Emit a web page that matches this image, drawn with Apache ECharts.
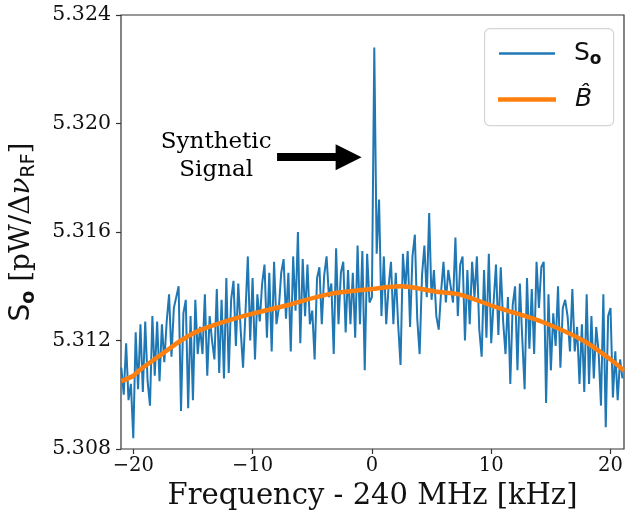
<!DOCTYPE html>
<html><head><meta charset="utf-8">
<script src="https://cdn.jsdelivr.net/npm/echarts@6/dist/echarts.min.js"></script>
<style>html,body{margin:0;padding:0;background:#fff}#c{width:627px;height:516px}</style>
</head><body><div id="c"></div>
<script>
// Frequency offsets (kHz)
const freq = [
 -21.0,-20.8,-20.6,-20.4,-20.2, -20.0,-19.8,-19.6,-19.4,-19.2, -19.0,-18.8,-18.6,-18.4,-18.2,
 -18.0,-17.8,-17.6,-17.4,-17.2, -17.0,-16.8,-16.6,-16.4,-16.2, -16.0,-15.8,-15.6,-15.4,-15.2,
 -15.0,-14.8,-14.6,-14.4,-14.2, -14.0,-13.8,-13.6,-13.4,-13.2, -13.0,-12.8,-12.6,-12.4,-12.2,
 -12.0,-11.8,-11.6,-11.4,-11.2, -11.0,-10.8,-10.6,-10.4,-10.2, -10.0,-9.8,-9.6,-9.4,-9.2,
 -9.0,-8.8,-8.6,-8.4,-8.2, -8.0,-7.8,-7.6,-7.4,-7.2, -7.0,-6.8,-6.6,-6.4,-6.2,
 -6.0,-5.8,-5.6,-5.4,-5.2, -5.0,-4.8,-4.6,-4.4,-4.2, -4.0,-3.8,-3.6,-3.4,-3.2,
 -3.0,-2.8,-2.6,-2.4,-2.2, -2.0,-1.8,-1.6,-1.4,-1.2, -1.0,-0.8,-0.6,-0.4,-0.2,
 0.0,0.2,0.4,0.6,0.8, 1.0,1.2,1.4,1.6,1.8, 2.0,2.2,2.4,2.6,2.8,
 3.0,3.2,3.4,3.6,3.8, 4.0,4.2,4.4,4.6,4.8, 5.0,5.2,5.4,5.6,5.8,
 6.0,6.2,6.4,6.6,6.8, 7.0,7.2,7.4,7.6,7.8, 8.0,8.2,8.4,8.6,8.8,
 9.0,9.2,9.4,9.6,9.8, 10.0,10.2,10.4,10.6,10.8, 11.0,11.2,11.4,11.6,11.8,
 12.0,12.2,12.4,12.6,12.8, 13.0,13.2,13.4,13.6,13.8, 14.0,14.2,14.4,14.6,14.8,
 15.0,15.2,15.4,15.6,15.8, 16.0,16.2,16.4,16.6,16.8, 17.0,17.2,17.4,17.6,17.8,
 18.0,18.2,18.4,18.6,18.8, 19.0,19.2,19.4,19.6,19.8, 20.0,20.2,20.4,20.6,20.8,
 21.0
];
// Measured spectrum S_o (pW / Δν_RF)
const signal = [
 5.3110,5.3100,5.3119,5.3098,5.3104, 5.3084,5.3123,5.3102,5.3126,5.3101, 5.3127,5.3105,5.3096,5.3129,5.3107,
 5.3127,5.3105,5.3126,5.3112,5.3127, 5.3137,5.3114,5.3132,5.3136,5.3140, 5.3094,5.3130,5.3135,5.3095,5.3129,
 5.3098,5.3135,5.3115,5.3125,5.3115, 5.3137,5.3107,5.3129,5.3120,5.3113, 5.3139,5.3108,5.3135,5.3106,5.3143,
 5.3108,5.3135,5.3142,5.3118,5.3141, 5.3124,5.3110,5.3130,5.3151,5.3120, 5.3143,5.3113,5.3137,5.3127,5.3141,
 5.3148,5.3121,5.3145,5.3116,5.3149, 5.3126,5.3132,5.3145,5.3150,5.3128, 5.3145,5.3116,5.3151,5.3131,5.3160,
 5.3119,5.3150,5.3129,5.3148,5.3126, 5.3131,5.3113,5.3143,5.3147,5.3126, 5.3144,5.3151,5.3136,5.3141,5.3115,
 5.3154,5.3126,5.3145,5.3149,5.3123, 5.3146,5.3126,5.3145,5.3121,5.3155, 5.3126,5.3153,5.3109,5.3152,5.3134,
 5.3136,5.3228,5.3152,5.3172,5.3129, 5.3151,5.3126,5.3140,5.3149,5.3126, 5.3145,5.3126,5.3111,5.3152,5.3139,
 5.3153,5.3125,5.3151,5.3159,5.3128, 5.3115,5.3144,5.3155,5.3136,5.3167, 5.3135,5.3146,5.3129,5.3124,5.3138,
 5.3149,5.3134,5.3146,5.3140,5.3134, 5.3158,5.3129,5.3148,5.3151,5.3120, 5.3146,5.3126,5.3149,5.3136,5.3151,
 5.3124,5.3114,5.3146,5.3121,5.3152, 5.3119,5.3134,5.3148,5.3122,5.3147, 5.3127,5.3115,5.3136,5.3104,5.3133,
 5.3140,5.3109,5.3141,5.3121,5.3102, 5.3143,5.3117,5.3139,5.3115,5.3149, 5.3132,5.3147,5.3149,5.3097,5.3137,
 5.3109,5.3130,5.3118,5.3140,5.3110, 5.3132,5.3135,5.3129,5.3116,5.3139, 5.3116,5.3125,5.3104,5.3126,5.3101,
 5.3137,5.3104,5.3129,5.3106,5.3125, 5.3116,5.3096,5.3137,5.3088,5.3129, 5.3132,5.3099,5.3116,5.3098,5.3113,
 5.3106
];
// Fitted baseline B-hat
const fitFreq   = [-21.0, -20.0, -19.5, -17.6, -16.0, -14.3, -10.8, -7.1, -3.7, 0.0, 2.4, 5.4, 7.3, 10.6, 14.2, 17.7, 20.0, 21.1];
const fitValues = [5.3105, 5.3107, 5.3109, 5.3115, 5.3120, 5.3124, 5.3129, 5.3133, 5.3137, 5.3139, 5.3140, 5.3138, 5.3137, 5.3132, 5.3127, 5.3120, 5.3113, 5.3109];
const xTicks = [-20, -10, 0, 10, 20];
const yTicks = [5.308, 5.312, 5.316, 5.320, 5.324];

const serif = 'DejaVu Serif';
const sans = 'DejaVu Sans';
const chart = echarts.init(document.getElementById('c'), null, {renderer: 'canvas'});
chart.setOption({
  animation: false,
  backgroundColor: '#fff',
  grid: {left: 120, top: 15, width: 504, height: 437, show: true, borderColor: '#333', borderWidth: 1.2, backgroundColor: 'transparent'},
  xAxis: {
    type: 'value', min: -21.03, max: 21.13,
    axisLine: {show: false, onZero: false},
    splitLine: {show: false},
    axisTick: {show: true, customValues: xTicks, length: 5, lineStyle: {color: '#333', width: 1.2}},
    axisLabel: {customValues: xTicks, margin: 7, fontFamily: serif, fontSize: 19.5, color: '#111',
      formatter: v => String(v).replace('-', '\u2212')},
    name: 'Frequency - 240 MHz [kHz]', nameLocation: 'middle', nameGap: 33,
    nameTextStyle: {fontFamily: serif, fontSize: 29, color: '#111'}
  },
  yAxis: {
    type: 'value', min: 5.308, max: 5.324,
    axisLine: {show: false, onZero: false},
    splitLine: {show: false},
    axisTick: {show: true, customValues: yTicks, length: 5, lineStyle: {color: '#333', width: 1.2}},
    axisLabel: {customValues: yTicks, margin: 10, fontFamily: serif, fontSize: 20.5, color: '#111',
      formatter: v => v.toFixed(3)},
    name: '{s|S}{o|o}{t| [pW/Δ}{nu|ν}{rf|RF}{t|]}', nameLocation: 'middle', nameRotate: 90, nameGap: 82,
    nameTextStyle: {color: '#111', rich: {
      s: {fontFamily: sans, fontSize: 28, lineHeight: 34, color: '#111'},
      o: {fontFamily: sans, fontWeight: 'bold', fontSize: 19, lineHeight: 22, verticalAlign: 'bottom', color: '#111'},
      t: {fontFamily: serif, fontSize: 28, lineHeight: 34, color: '#111'},
      nu: {fontFamily: serif, fontStyle: 'italic', fontSize: 28, lineHeight: 34, color: '#111'},
      rf: {fontFamily: sans, fontSize: 19, lineHeight: 22, verticalAlign: 'bottom', color: '#111'}
    }}
  },
  graphic: [{
    type: 'rect', left: 484, top: 28, z: 3,
    shape: {width: 129, height: 97, r: 5},
    style: {fill: 'rgba(255,255,255,0.85)', stroke: '#d4d4d4', lineWidth: 1.2}
  }],
  legend: [{
    data: ['S_o'], left: 494, top: 36, z: 5, selectedMode: false,
    icon: 'rect', itemWidth: 56, itemHeight: 2.5,
    formatter: () => '{s|S}{o|o}',
    textStyle: {padding: [0, 0, 0, 14], rich: {
      s: {fontFamily: sans, fontSize: 25, lineHeight: 30, color: '#111'},
      o: {fontFamily: sans, fontWeight: 'bold', fontSize: 17, lineHeight: 20, verticalAlign: 'bottom', color: '#111'}
    }}
  }, {
    data: ['B_hat'], left: 493, top: 82, z: 5, selectedMode: false,
    icon: 'rect', itemWidth: 58, itemHeight: 4.5,
    formatter: () => '{b|B\u0302}',
    textStyle: {padding: [0, 0, 0, 14], rich: {
      b: {fontFamily: sans, fontStyle: 'italic', fontSize: 25, lineHeight: 32, color: '#111'}
    }}
  }],
  series: [{
    name: 'S_o', type: 'line', showSymbol: false, z: 2,
    data: freq.map((f, i) => [f, signal[i]]),
    lineStyle: {color: '#1f77b4', width: 2}, itemStyle: {color: '#1f77b4'},
    markLine: {
      silent: true, symbol: ['none', 'triangle'], symbolSize: 26,
      lineStyle: {color: '#000', width: 8, type: 'solid', opacity: 1}, label: {show: false},
      itemStyle: {color: '#000'},
      data: [[{coord: [-7.95, 5.31876]}, {coord: [-1.95, 5.31876]}]]
    },
    markPoint: {
      silent: true, symbol: 'circle', symbolSize: 1, itemStyle: {color: 'rgba(0,0,0,0)'},
      label: {show: true, position: 'inside', formatter: 'Synthetic\nSignal', fontFamily: serif, fontSize: 23, lineHeight: 28, color: '#000', align: 'center'},
      data: [{coord: [-13.05, 5.3188]}]
    }
  }, {
    name: 'B_hat', type: 'line', showSymbol: false, smooth: 0.3, z: 3,
    data: fitFreq.map((f, i) => [f, fitValues[i]]),
    lineStyle: {color: '#ff7f0e', width: 4.5}, itemStyle: {color: '#ff7f0e'}
  }]
});
</script></body></html>
